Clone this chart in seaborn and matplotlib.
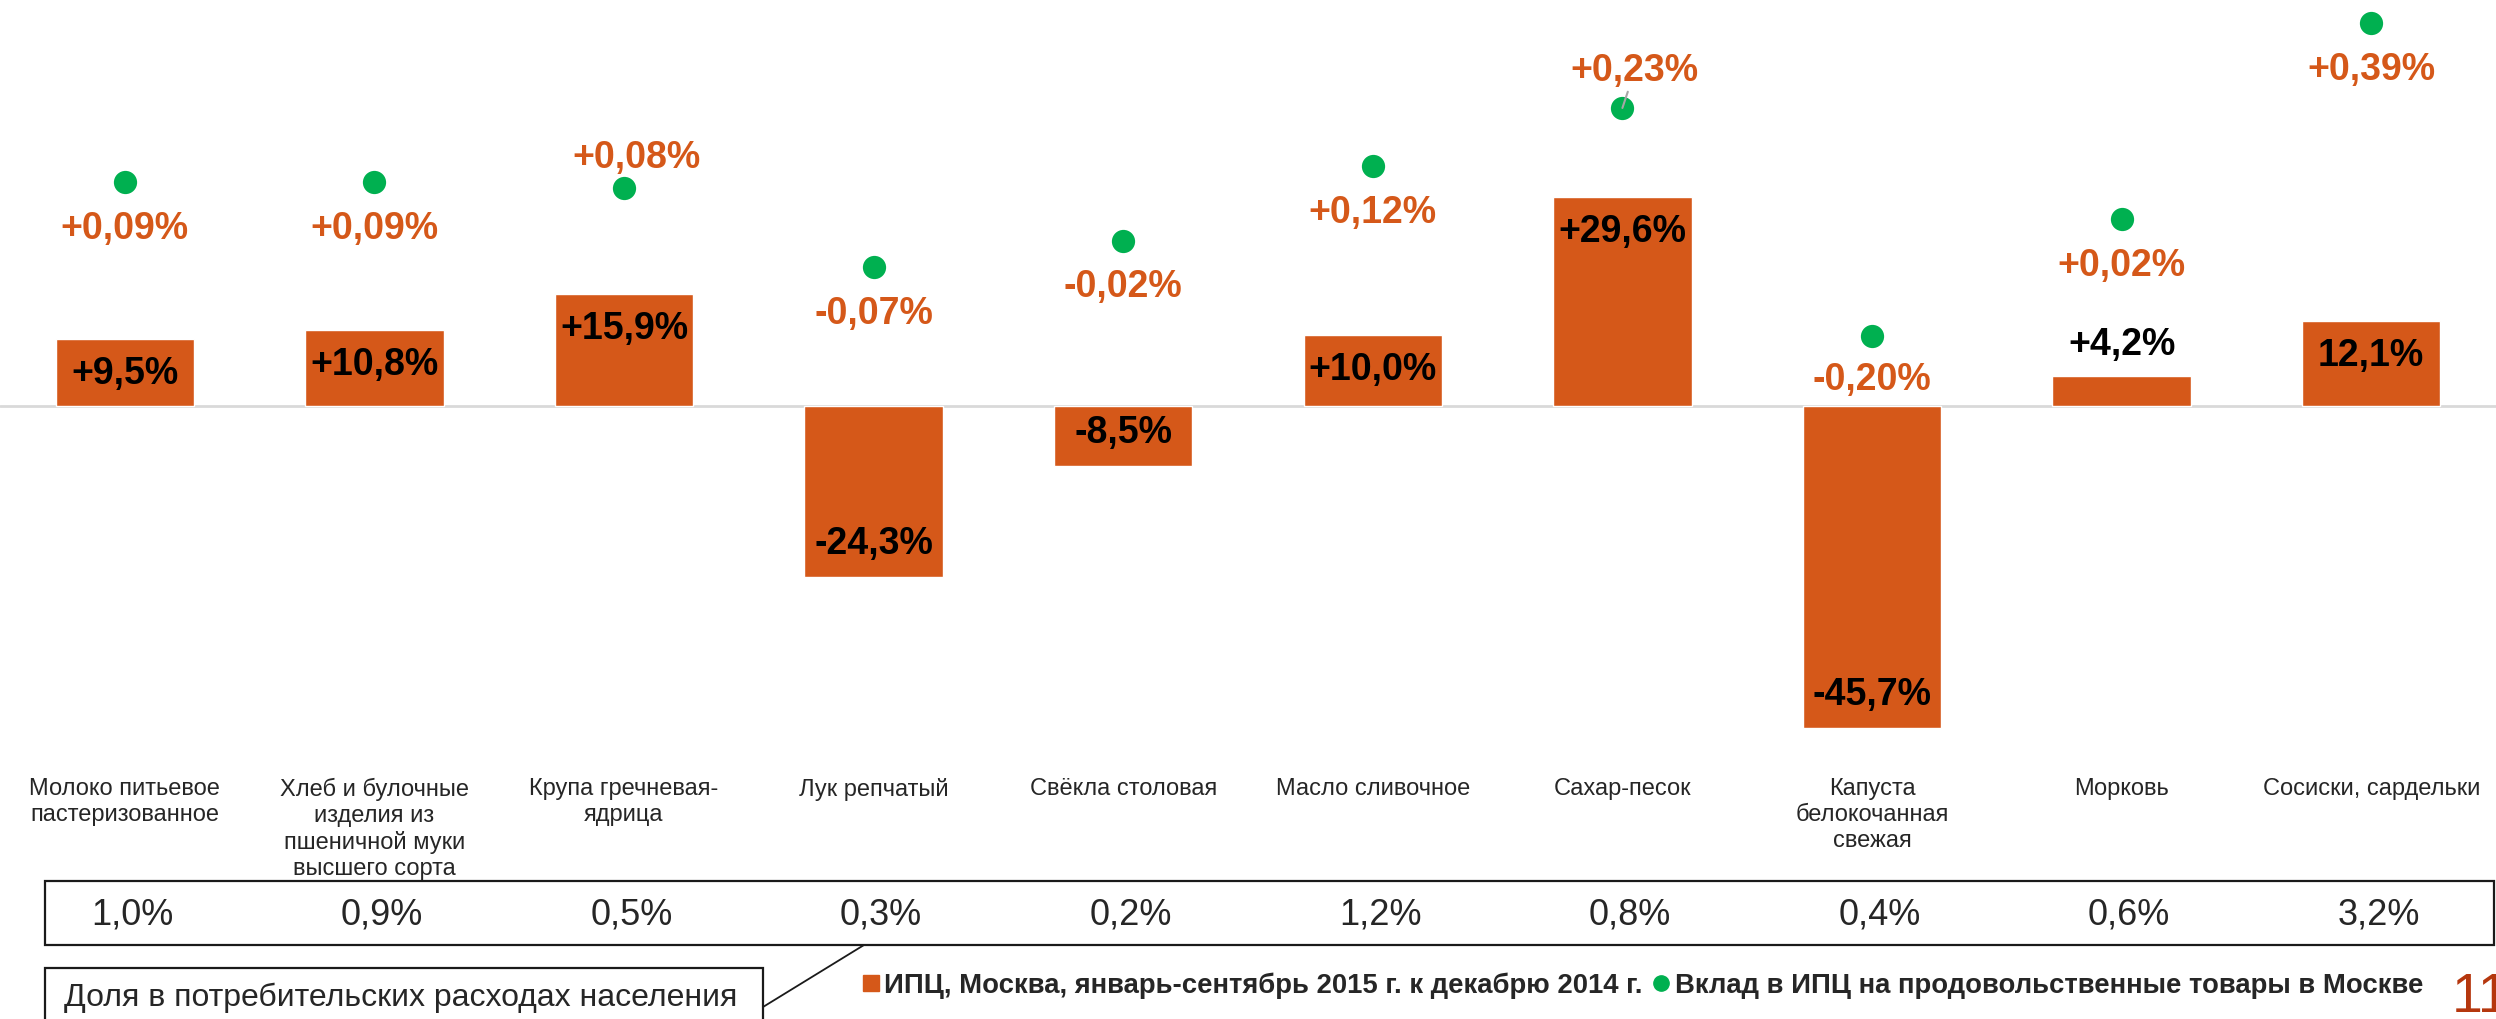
import seaborn as sns
import matplotlib.pyplot as plt
import pandas as pd
from matplotlib.lines import Line2D
from matplotlib.patches import Rectangle
from matplotlib.transforms import blended_transform_factory

categories = ["Молоко питьевое\nпастеризованное",
              "Хлеб и булочные\nизделия из\nпшеничной муки\nвысшего сорта",
              "Крупа гречневая-\nядрица",
              "Лук репчатый",
              "Свёкла столовая",
              "Масло сливочное",
              "Сахар-песок",
              "Капуста\nбелокочанная\nсвежая",
              "Морковь",
              "Сосиски, сардельки"]
cpi = [9.5, 10.8, 15.9, -24.3, -8.5, 10.0, 29.6, -45.7, 4.2, 12.1]
cpi_labels = ["+9,5%", "+10,8%", "+15,9%", "-24,3%", "-8,5%",
              "+10,0%", "+29,6%", "-45,7%", "+4,2%", "12,1%"]
contrib = [0.09, 0.09, 0.08, -0.07, -0.02, 0.12, 0.23, -0.20, 0.02, 0.39]
contrib_labels = ["+0,09%", "+0,09%", "+0,08%", "-0,07%", "-0,02%",
                  "+0,12%", "+0,23%", "-0,20%", "+0,02%", "+0,39%"]
shares = ["1,0%", "0,9%", "0,5%", "0,3%", "0,2%", "1,2%", "0,8%", "0,4%", "0,6%", "3,2%"]

# where the orange label of each dot sits (offset in points), styling only
dot_label_offset = [(0, -33), (0, -33), (9, 22), (0, -33), (0, -33),
                    (0, -33), (9, 27), (0, -31), (0, -33), (0, -33)]

orange = "#D55819"
green = "#00B050"

sns.set_style("white")
plt.rcParams['font.family'] = ['Liberation Sans', 'DejaVu Sans']

df = pd.DataFrame({"cat": categories, "cpi": cpi, "contrib": contrib})

fig = plt.figure(figsize=(24.96, 10.2), dpi=100)
ax = fig.add_axes([0, 1 - 770 / 1020, 1, 770 / 1020])

sns.barplot(data=df, x="cat", y="cpi", color=orange, saturation=1, width=0.555, ax=ax)
ax.axhline(0, color="#D9D9D9", lw=2, zorder=0.5)
ax.set_ylim(-51.5, 57.7)

for i, (v, lab) in enumerate(zip(cpi, cpi_labels)):
    if abs(v) < 6:
        off = 23
    else:
        off = -24.5 if v > 0 else 24.5
    ax.annotate(lab, xy=(i, v), xytext=(0, off), textcoords="offset points",
                ha="center", va="center", fontsize=27, fontweight="bold", color="black")

ax2 = ax.twinx()
sns.scatterplot(data=df, x="cat", y="contrib", color=green, s=280, linewidth=0, ax=ax2, zorder=3)
ax2.set_ylim(-1.016, 0.4354)

for i, (v, lab) in enumerate(zip(contrib, contrib_labels)):
    dx, dy = dot_label_offset[i]
    arrow = None
    if i == 6:
        arrow = dict(arrowstyle="-", color="#A6A6A6", lw=1.5, shrinkA=0, shrinkB=0)
    ax2.annotate(lab, xy=(i, v), xytext=(dx, dy), textcoords="offset points",
                 ha="center", va="center", fontsize=27, fontweight="bold",
                 color=orange, arrowprops=arrow)

for a in (ax, ax2):
    a.set_xlim(-0.5, 9.5)
    a.set_ylabel("")
    a.set_xlabel("")
    a.set_yticks([])
    for s in a.spines.values():
        s.set_visible(False)

ax.set_xticks(range(len(categories)))
ax.set_xticklabels(categories, fontsize=17, linespacing=1.22)
ax.tick_params(axis="x", length=0, pad=6)

# row with shares of consumer spending
fig.add_artist(Rectangle((45 / 2496, 1 - 946 / 1020), 2449 / 2496, 64 / 1020,
                         transform=fig.transFigure, fill=False, ec="#1a1a1a", lw=1.6))
tr = blended_transform_factory(ax.transData, fig.transFigure)
for i, s in enumerate(shares):
    ax.text(i + 0.03, 1 - 915 / 1020, s, transform=tr, ha="center", va="center",
            fontsize=26, clip_on=False)

# caption box with callout line
fig.add_artist(Rectangle((45 / 2496, -0.05), 718 / 2496, 0.05 + 1 - 969 / 1020,
                         transform=fig.transFigure, fill=False, ec="#1a1a1a", lw=1.6))
fig.text(64 / 2496, 1 - 998 / 1020, "Доля в потребительских расходах населения",
         ha="left", va="center", fontsize=23)
fig.add_artist(Line2D([763 / 2496, 864 / 2496], [1 - 1008 / 1020, 1 - 946 / 1020],
                      transform=fig.transFigure, color="#1a1a1a", lw=1.3))

handles = [Line2D([], [], marker="s", color=orange, ls="", markersize=11),
           Line2D([], [], marker="o", color=green, ls="", markersize=11)]
fig.legend(handles, ["ИПЦ, Москва, январь-сентябрь 2015 г. к декабрю 2014 г.",
                     "Вклад в ИПЦ на продовольственные товары в Москве"],
           loc="center left", bbox_to_anchor=(0.345, 1 - 986 / 1020), ncol=2,
           frameon=False, prop={"weight": "bold", "size": 19.8},
           handlelength=0.7, handletextpad=0.15, columnspacing=0.3,
           borderpad=0, borderaxespad=0)

fig.text(2452 / 2496, 1 - 1012 / 1020, "11", ha="left", va="baseline",
         fontsize=40, color="#B5370E")

fig.savefig("out.png", dpi=100)
